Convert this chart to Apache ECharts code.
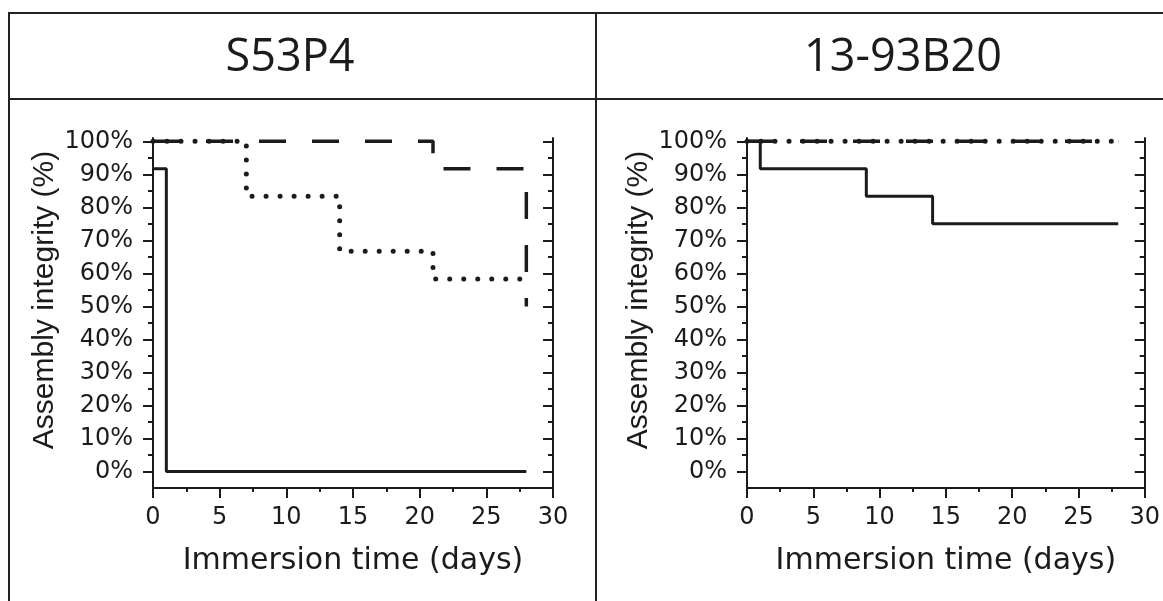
<!DOCTYPE html>
<html>
<head>
<meta charset="utf-8">
<script src="https://cdn.jsdelivr.net/npm/echarts@6/dist/echarts.min.js"></script>
<style>
  html, body { margin: 0; padding: 0; background: #ffffff; }
  #chart { width: 1163px; height: 601px; }
</style>
</head>
<body>
<div id="chart"></div>
<script>
// Kaplan–Meier style assembly integrity curves (percent intact vs. immersion days)
const panelTitles = ['S53P4', '13-93B20'];

// S53P4
const s53p4SolidDays = [0, 1, 28];
const s53p4SolidValues = [91.67, 0, 0];
const s53p4DashedDays = [0, 21, 28];
const s53p4DashedValues = [100, 91.67, 50];
const s53p4DottedDays = [0, 7, 14, 21, 28];
const s53p4DottedValues = [100, 83.33, 66.67, 58.33, 58.33];

// 13-93B20
const b20SolidDays = [0, 1, 9, 14, 28];
const b20SolidValues = [100, 91.67, 83.33, 75, 75];
const b20DashedDays = [0, 28];
const b20DashedValues = [100, 100];
const b20DottedDays = [0, 28];
const b20DottedValues = [100, 100];

// axis ticks
const yMajorTicks = [0, 10, 20, 30, 40, 50, 60, 70, 80, 90, 100];
const yMinorTicks = [5, 15, 25, 35, 45, 55, 65, 75, 85, 95];

const INK = '#1b1b1b';
const TICK_FONT = 'DejaVu Sans';

function pairs(days, values) {
  return days.map((d, i) => [d, values[i]]);
}

function xAxisFor(gridIndex) {
  return {
    gridIndex: gridIndex,
    type: 'value',
    min: 0, max: 30, interval: 5,
    name: 'Immersion time (days)',
    nameLocation: 'middle',
    nameGap: 58,
    nameTextStyle: { fontFamily: TICK_FONT, fontSize: 30, color: INK },
    axisLine: { show: true, onZero: false, lineStyle: { color: INK, width: 2 } },
    axisTick: { show: true, length: 10, lineStyle: { color: INK, width: 2 } },
    minorTick: { show: true, splitNumber: 2, length: 4, lineStyle: { color: INK, width: 2 } },
    axisLabel: { margin: 18, fontFamily: TICK_FONT, fontSize: 24, color: INK },
    splitLine: { show: false },
    minorSplitLine: { show: false }
  };
}

function yAxesFor(gridIndex) {
  const base = {
    gridIndex: gridIndex,
    type: 'value',
    min: -5, max: 101,
    splitLine: { show: false }
  };
  return [
    Object.assign({}, base, {
      position: 'left',
      name: 'Assembly integrity (%)',
      nameLocation: 'middle',
      nameGap: 93,
      // left padding nudges the rotated title a little above the axis centre
      nameTextStyle: { fontFamily: 'Liberation Sans', fontSize: 30, color: INK, padding: [0, 0, 0, 26] },
      axisLine: { show: true, onZero: false, lineStyle: { color: INK, width: 2 } },
      axisTick: { show: true, length: 10, customValues: yMajorTicks, lineStyle: { color: INK, width: 2 } },
      axisLabel: { show: true, customValues: yMajorTicks, formatter: '{value}%', margin: 20,
                   fontFamily: TICK_FONT, fontSize: 24, color: INK }
    }),
    Object.assign({}, base, {
      position: 'left',
      axisLine: { show: false, onZero: false },
      axisTick: { show: true, length: 5, customValues: yMinorTicks, lineStyle: { color: INK, width: 2 } },
      axisLabel: { show: false }
    }),
    Object.assign({}, base, {
      position: 'right',
      axisLine: { show: true, onZero: false, lineStyle: { color: INK, width: 2 } },
      axisTick: { show: true, inside: true, length: 10, customValues: yMajorTicks, lineStyle: { color: INK, width: 2 } },
      axisLabel: { show: false }
    }),
    Object.assign({}, base, {
      position: 'right',
      axisLine: { show: false, onZero: false },
      axisTick: { show: true, inside: true, length: 5, customValues: yMinorTicks, lineStyle: { color: INK, width: 2 } },
      axisLabel: { show: false }
    })
  ];
}

const styles = {
  solid:  { color: INK, width: 3, type: 'solid' },
  dashed: { color: INK, width: 3.5, type: [27, 26], cap: 'butt' },
  dotted: { color: INK, width: 5, type: [0.01, 14], cap: 'round' }
};

function stepSeries(name, xIdx, yIdx, days, values, style, z) {
  return {
    name: name,
    type: 'line',
    step: 'end',
    xAxisIndex: xIdx,
    yAxisIndex: yIdx,
    data: pairs(days, values),
    symbol: 'none',
    lineStyle: style,
    z: z,
    silent: true
  };
}

const chart = echarts.init(document.getElementById('chart'), null, { renderer: 'canvas' });

const frame = { stroke: '#222222', lineWidth: 2 };

chart.setOption({
  animation: false,
  backgroundColor: '#ffffff',
  grid: [
    { left: 153, right: 610, top: 138, bottom: 113, containLabel: false },
    { left: 747, right: 16, top: 138, bottom: 113, containLabel: false }
  ],
  xAxis: [xAxisFor(0), xAxisFor(1)],
  yAxis: yAxesFor(0).concat(yAxesFor(1)),
  series: [
    stepSeries('S53P4 solid', 0, 0, s53p4SolidDays, s53p4SolidValues, styles.solid, 3),
    stepSeries('S53P4 dashed', 0, 0, s53p4DashedDays, s53p4DashedValues, styles.dashed, 4),
    stepSeries('S53P4 dotted', 0, 0, s53p4DottedDays, s53p4DottedValues, styles.dotted, 5),
    stepSeries('13-93B20 solid', 1, 4, b20SolidDays, b20SolidValues, styles.solid, 3),
    stepSeries('13-93B20 dashed', 1, 4, b20DashedDays, b20DashedValues, styles.dashed, 4),
    stepSeries('13-93B20 dotted', 1, 4, b20DottedDays, b20DottedValues, styles.dotted, 5)
  ],
  graphic: [
    // table frame around the two panels
    { type: 'line', shape: { x1: 9, y1: 13, x2: 1163, y2: 13 }, style: frame, silent: true },
    { type: 'line', shape: { x1: 9, y1: 99, x2: 1163, y2: 99 }, style: frame, silent: true },
    { type: 'line', shape: { x1: 9, y1: 12, x2: 9, y2: 601 }, style: frame, silent: true },
    { type: 'line', shape: { x1: 596, y1: 12, x2: 596, y2: 601 }, style: frame, silent: true },
    // panel headings
    { type: 'text', x: 290, y: 58, silent: true,
      style: { text: panelTitles[0], fill: INK, font: '45px "Open Sans"',
               align: 'center', verticalAlign: 'middle', textAlign: 'center', textVerticalAlign: 'middle' } },
    { type: 'text', x: 903, y: 58, silent: true,
      style: { text: panelTitles[1], fill: INK, font: '45px "Open Sans"',
               align: 'center', verticalAlign: 'middle', textAlign: 'center', textVerticalAlign: 'middle' } }
  ]
});
</script>
</body>
</html>
